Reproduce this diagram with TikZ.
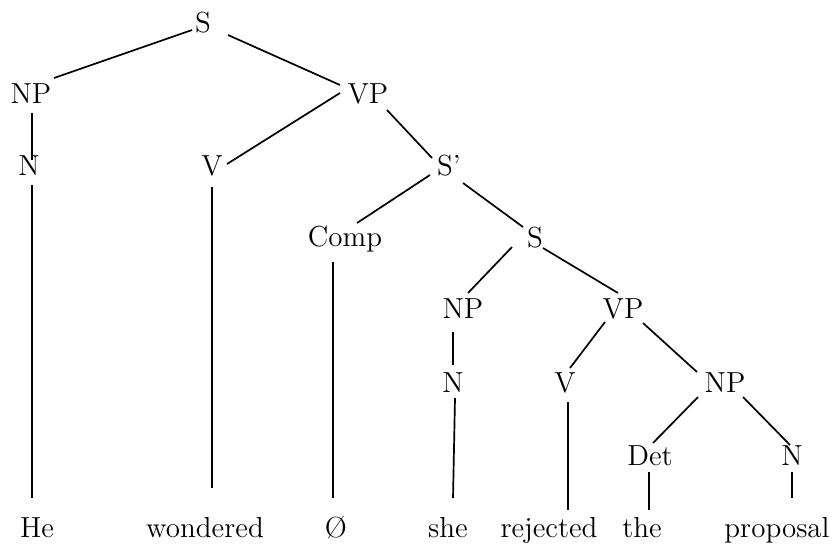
\documentclass[tikz,border=0pt]{standalone}
\usetikzlibrary{calc}
\begin{document}
\begin{tikzpicture}[x=0.5pt,y=-0.5pt,
  lab/.style={font=\fontsize{14.5}{16}\selectfont, inner sep=0pt, anchor=base},
  edge/.style={line width=0.85pt}]
\useasboundingbox (0,0) rectangle (838,543);
% categories
\node[lab] (S0) at (203,32) {S};
\node[lab] (NP1) at (31,103) {NP};
\node[lab] (VP1) at (368,103) {VP};
\node[lab] (N1) at (29,175) {N};
\node[lab] (V1) at (212,175) {V};
\node[lab] (Sb) at (449,175) {S’};
\node[lab] (Comp) at (345,246) {Comp};
\node[lab] (S2) at (535,247) {S};
\node[lab] (NP2) at (463,318) {NP};
\node[lab] (VP2) at (623,318) {VP};
\node[lab] (N2) at (453,392) {N};
\node[lab] (V2) at (565,392) {V};
\node[lab] (NP3) at (725,392) {NP};
\node[lab] (Det) at (650,465) {Det};
\node[lab] (N3) at (792,465) {N};
% words
\node[lab] (He) at (37,537) {He};
\node[lab] (wondered) at (205,537) {wondered};
\node[lab] (null) at (336,537) {\O};
\node[lab] (she) at (448,537) {she};
\node[lab] (rejected) at (549,537) {rejected};
\node[lab] (the) at (642,537) {the};
\node[lab] (proposal) at (777,537) {proposal};
% branches
\draw[edge] ($(S0.base)+(-11,-2)$) -- ($(NP1.base)+(23,-25)$);
\draw[edge] ($(S0.base)+(25,3)$) -- ($(VP1.base)+(-28,-18)$);
\draw[edge] ($(VP1.base)+(-28,-10)$) -- ($(V1.base)+(15,-11)$);
\draw[edge] ($(VP1.base)+(19,7)$) -- ($(Sb.base)+(-17,-17)$);
\draw[edge] ($(NP1.base)+(1,10)$) -- ($(N1.base)+(3,-15)$);
\draw[edge] ($(Sb.base)+(-19,0)$) -- ($(Comp.base)+(12,-23)$);
\draw[edge] ($(Sb.base)+(14,8)$) -- ($(S2.base)+(-12,-20)$);
\draw[edge] ($(S2.base)+(-23,0)$) -- ($(NP2.base)+(5,-25)$);
\draw[edge] ($(S2.base)+(8,1)$) -- ($(VP2.base)+(-5,-25)$);
\draw[edge] ($(NP2.base)+(-10,14)$) -- ($(N2.base)+(0,-27)$);
\draw[edge] ($(VP2.base)+(-18,4)$) -- ($(V2.base)+(5,-24)$);
\draw[edge] ($(VP2.base)+(20,5)$) -- ($(NP3.base)+(-28,-20)$);
\draw[edge] ($(NP3.base)+(-27,5)$) -- ($(Det.base)+(3,-22)$);
\draw[edge] ($(NP3.base)+(18,5)$) -- ($(N3.base)+(-2,-20)$);
% leaves
\draw[edge] ($(N1.base)+(3,10)$) -- ($(He.base)+(-5,-39)$);
\draw[edge] ($(V1.base)+(0,12)$) -- ($(wondered.base)+(7,-49)$);
\draw[edge] ($(Comp.base)+(-12,16)$) -- ($(null.base)+(-3,-39)$);
\draw[edge] ($(N2.base)+(2,6)$) -- ($(she.base)+(5,-39)$);
\draw[edge] ($(V2.base)+(3,10)$) -- ($(rejected.base)+(19,-27)$);
\draw[edge] ($(Det.base)+(-1,7)$) -- ($(the.base)+(7,-27)$);
\draw[edge] ($(N3.base)+(0,7)$) -- ($(proposal.base)+(15,-39)$);
\end{tikzpicture}
\end{document}
